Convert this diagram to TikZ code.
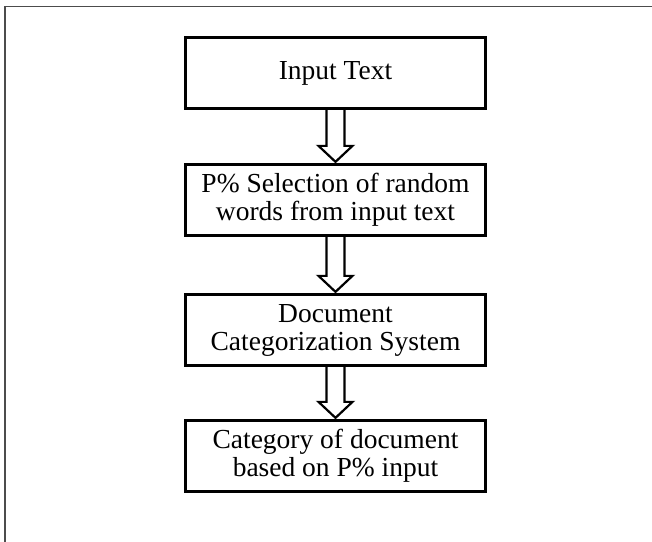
\documentclass[tikz,border=0pt]{standalone}
\usepackage{fontspec}
\setmainfont{Liberation Serif}
\usetikzlibrary{calc}
\begin{document}
\begin{tikzpicture}[x=1pt,y=-1pt,
  box/.style={draw, line width=2.8pt, minimum width=300.2pt, minimum height=71.5pt,
    align=center, inner sep=0pt, font=\fontsize{27.5}{28}\selectfont},
  harrow/.style={line width=2.2pt, line join=miter},
  frame/.style={draw=gray!60!black, line width=1.4pt}]
\useasboundingbox (0,0) rectangle (652,541);
\clip (0,0) rectangle (652,541);
\draw[frame] (5,6.5) rectangle (700,600);
\node[box] (b1) at (335.5,73) {Input Text};
\node[box] (b2) at (335.5,200) {P\% Selection of random\\words from input text};
\node[box] (b3) at (335.5,330) {Document\\Categorization System};
\node[box] (b4) at (335.5,456) {Category of document\\based on P\% input};
\foreach \a/\b in {b1/b2,b2/b3,b3/b4}
  \draw[harrow] ($(\a.south)+(-9,0)$) -- ($(\b.north)+(-9,-17)$) -- ($(\b.north)+(-17,-17)$)
    -- ($(\b.north)+(0,-1)$) -- ($(\b.north)+(17,-17)$) -- ($(\b.north)+(9,-17)$) -- ($(\a.south)+(9,0)$);
\end{tikzpicture}
\end{document}
